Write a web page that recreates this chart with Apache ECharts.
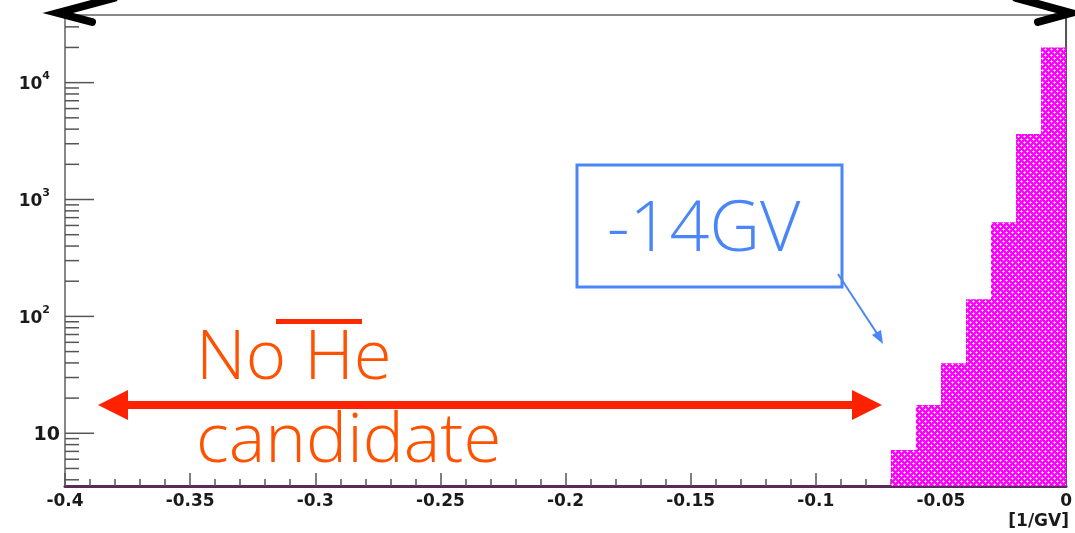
<!DOCTYPE html>
<html>
<head>
<meta charset="utf-8">
<script src="https://cdn.jsdelivr.net/npm/echarts@6/dist/echarts.min.js"></script>
<style>
html,body{margin:0;padding:0;background:#fff;}
#chart{width:1075px;height:533px;}
</style>
</head>
<body>
<div id="chart"></div>
<script>
// ---- data ----
const binEdges = [-0.07, -0.06, -0.05, -0.04, -0.03, -0.02, -0.01, 0];
const binCounts = [7.2, 17.5, 39.7, 140, 638, 3640, 20000];
const xTickLabels = ['-0.4','-0.35','-0.3','-0.25','-0.2','-0.15','-0.1','-0.05','0'];
const yMajorTicks = [10, 100, 1000, 10000];
const yMinorTicks = [4,5,6,7,8,9,20,30,40,50,60,70,80,90,200,300,400,500,600,700,800,900,2000,3000,4000,5000,6000,7000,8000,9000,20000,30000];
const xMin = -0.4, xMax = 0, yMin = 3.54, yMax = 37900;

// ---- hatch pattern ----
function makePattern(){
  const c = document.createElement('canvas');
  c.width = 6; c.height = 6;
  const g = c.getContext('2d');
  g.fillStyle = '#ff00ff'; g.fillRect(0,0,6,6);
  function hole(x,y){
    g.fillStyle = '#ffa8ff';
    g.fillRect(x-1,y,1,1); g.fillRect(x+1,y,1,1); g.fillRect(x,y-1,1,1); g.fillRect(x,y+1,1,1);
    g.fillStyle = '#ffffff'; g.fillRect(x,y,1,1);
  }
  hole(1,1); hole(4,4);
  return c;
}
const pattern = { image: makePattern(), repeat: 'repeat' };

const chart = echarts.init(document.getElementById('chart'), null, {renderer:'canvas'});
const histData = binCounts.map((c,i)=>[binEdges[i], binEdges[i+1], c]);

function tickSeries(values, len, name){
  return {
    type: 'custom', name: name, data: values.map(v=>[xMin, v]), encode: { x: 0, y: 1 },
    renderItem: function(params, api){
      const p = api.coord([api.value(0), api.value(1)]);
      return { type: 'line', shape: { x1: p[0], y1: p[1], x2: p[0]+len, y2: p[1] }, style: { stroke: '#555', lineWidth: 1.5 } };
    },
    z: 3, silent: true
  };
}

const option = {
  animation: false,
  backgroundColor: '#fff',
  grid: { left: 65, right: 7, top: 15, bottom: 47, show: true, borderColor: '#888', borderWidth: 2, backgroundColor: 'transparent' },
  xAxis: {
    type: 'value', min: xMin, max: xMax, interval: 0.05,
    axisLine: { show: true, onZero: false, lineStyle: { color: '#5a2a5a', width: 3 } },
    axisTick: { show: true, inside: true, length: 13, lineStyle: { color: '#555', width: 1.5 } },
    minorTick: { show: true, splitNumber: 5, length: 7, lineStyle: { color: '#555', width: 1.5 } },
    splitLine: { show: false },
    axisLabel: {
      margin: 7, color: '#1a1a1a', fontFamily: 'DejaVu Sans', fontWeight: 'bold', fontSize: 17,
      formatter: function(v){ const i = Math.round((v - xMin)/0.05); return xTickLabels[i] !== undefined ? xTickLabels[i] : ''; }
    }
  },
  yAxis: {
    type: 'log', logBase: 10, min: yMin, max: yMax,
    axisLine: { show: true, lineStyle: { color: '#555', width: 2 } },
    axisTick: { show: false },
    splitLine: { show: false },
    axisLabel: {
      margin: 5,
      formatter: function(v){
        const lv = Math.log10(v), n = Math.round(lv);
        if (Math.abs(lv - n) > 1e-6 || yMajorTicks.indexOf(Math.pow(10, n)) < 0) return '';
        if (n === 1) return '{p|10}';
        return '{b|10}{s|' + n + '}';
      },
      rich: {
        p: { fontFamily: 'DejaVu Sans', fontWeight: 'bold', fontSize: 19, color: '#1a1a1a', padding: [4,0,0,0] },
        b: { fontFamily: 'DejaVu Sans', fontWeight: 'bold', fontSize: 17, color: '#1a1a1a', padding: [4,0,0,0] },
        s: { fontFamily: 'DejaVu Sans', fontWeight: 'bold', fontSize: 11, color: '#1a1a1a', padding: [0,10,12,0] }
      }
    }
  },
  series: [
    {
      type: 'custom', name: 'hist', data: histData, encode: { x: [0,1], y: 2 },
      renderItem: function(params, api){
        const x0 = api.value(0), x1 = api.value(1), c = api.value(2);
        const p0 = api.coord([x0, c]), p1 = api.coord([x1, c]);
        const bottom = params.coordSys.y + params.coordSys.height;
        return { type: 'rect', shape: { x: p0[0], y: p0[1], width: p1[0]-p0[0], height: bottom - p0[1] }, style: { fill: pattern } };
      },
      z: 1
    },
    tickSeries(yMinorTicks, 14, 'yminor'),
    tickSeries(yMajorTicks, 29, 'ymajor')
  ],
  graphic: [
    // top frame double arrow heads
    { type: 'polyline', shape: { points: [[114,-2],[58,13],[92,22]] }, style: { stroke: '#000', lineWidth: 8, fill: null, lineJoin: 'miter', lineCap: 'round' }, z: 100 },
    { type: 'polyline', shape: { points: [[1016,-2],[1071,13],[1038,22]] }, style: { stroke: '#000', lineWidth: 8, fill: null, lineJoin: 'miter', lineCap: 'round' }, z: 100 },
    // blue box
    { type: 'rect', shape: { x: 577, y: 165, width: 265, height: 122 }, style: { stroke: '#4a86f7', lineWidth: 3, fill: null }, z: 100 },
    { type: 'text', x: 607, y: 231, style: { text: '-14GV', fill: '#4a86f7', fontFamily: 'Open Sans', fontWeight: 300, fontSize: 70, textAlign: 'left', textVerticalAlign: 'middle' }, z: 100 },
    { type: 'line', shape: { x1: 838, y1: 274, x2: 878, y2: 335 }, style: { stroke: '#4a86f7', lineWidth: 2 }, z: 100 },
    { type: 'polygon', shape: { points: [[883,344],[872,335],[881,330]] }, style: { fill: '#4a86f7' }, z: 100 },
    // red double arrow
    { type: 'rect', shape: { x: 125, y: 401, width: 730, height: 8 }, style: { fill: '#ff2200' }, z: 100 },
    { type: 'polygon', shape: { points: [[98,405],[128,390],[128,420]] }, style: { fill: '#ff2200' }, z: 100 },
    { type: 'polygon', shape: { points: [[882,405],[852,390],[852,420]] }, style: { fill: '#ff2200' }, z: 100 },
    // No He candidate
    { type: 'text', x: 196, y: 359, style: { text: 'No He', fill: '#ff5200', fontFamily: 'Open Sans', fontWeight: 300, fontSize: 69, textAlign: 'left', textVerticalAlign: 'middle' }, z: 100 },
    { type: 'rect', shape: { x: 276, y: 319, width: 86, height: 5 }, style: { fill: '#ff2a00' }, z: 100 },
    { type: 'text', x: 196, y: 442, style: { text: 'candidate', fill: '#ff5200', fontFamily: 'Open Sans', fontWeight: 300, fontSize: 69, textAlign: 'left', textVerticalAlign: 'middle' }, z: 100 },
    // axis title
    { type: 'text', x: 1069, y: 522, style: { text: '[1/GV]', fill: '#1a1a1a', fontFamily: 'DejaVu Sans', fontWeight: 'bold', fontSize: 17, textAlign: 'right', textVerticalAlign: 'middle' }, z: 100 }
  ]
};
chart.setOption(option);
</script>
</body>
</html>
